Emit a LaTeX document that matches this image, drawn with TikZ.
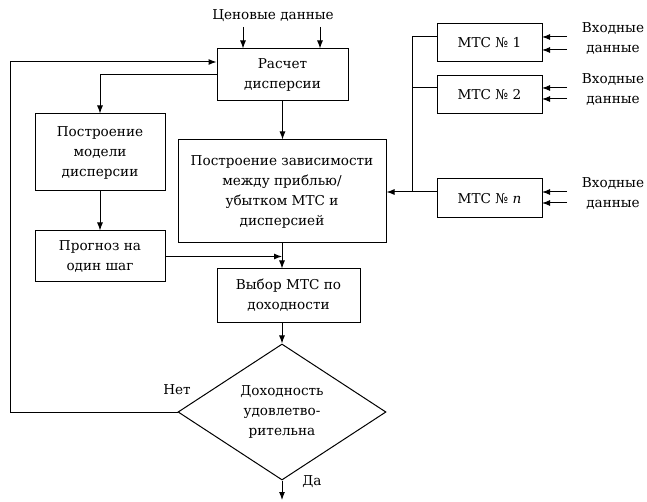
\documentclass[tikz,border=0pt]{standalone}
\usepackage{fontspec}
\setmainfont{DejaVu Serif}
\usetikzlibrary{positioning,shapes.geometric,arrows.meta}

\tikzset{
  box/.style={draw, line width=1pt, align=center, inner sep=0pt},
  lbl/.style={align=center, inner sep=0pt},
  link/.style={line width=1pt, -{Latex[length=8pt,width=6pt]}},
  bus/.style={line width=1pt}
}

\begin{document}
\begin{tikzpicture}[x=1pt, y=-1pt, font=\fontsize{13.6}{20}\selectfont]
\useasboundingbox (0,0) rectangle (647,502);
% main column
\node[lbl] (price) at (273,16) {Ценовые данные};
\node[box, minimum width=131pt, minimum height=52pt] (calc) at (282.5,75) {Расчет\\дисперсии};
\node[box, minimum width=130pt, minimum height=77pt] (model) at (100,152.5) {Построение\\модели\\дисперсии};
\node[box, minimum width=130pt, minimum height=51pt] (forecast) at (100,256.5) {Прогноз на\\один шаг};
\node[box, minimum width=208pt, minimum height=103pt] (dep) at (282,191.5) {Построение зависимости\\между приблью/\\убытком МТС и\\дисперсией};
\node[box, minimum width=143pt, minimum height=53pt] (choice) at (288.5,295.5) {Выбор МТС по\\доходности};
\node[box, diamond, minimum width=208pt, minimum height=129pt] (dec) at (282,412) {Доходность\\удовлетво-\\рительна};
\node[lbl] (no) at (177,390) {Нет};
\node[lbl] (yes) at (312,482) {Да};
% trading systems
\node[box, minimum width=105pt, minimum height=38pt] (mtc1) at (489.5,43) {МТС № 1};
\node[box, minimum width=105pt, minimum height=38pt] (mtc2) at (489.5,95) {МТС № 2};
\node[box, minimum width=105pt, minimum height=39pt] (mtcn) at (489.5,198.5) {МТС № \textit{n}};
\node[lbl] (in1) at (613,38) {Входные\\данные};
\node[lbl] (in2) at (613,89) {Входные\\данные};
\node[lbl] (inn) at (613,193) {Входные\\данные};

\coordinate (p1) at (243,27);
\coordinate (p2) at (320,27);
\coordinate (loop) at (10,62);
\coordinate (out) at (282,500);
\coordinate (b1) at (412,37);
\coordinate (b2) at (412,88);
\coordinate (bn) at (412,192);

\draw[link] (p1) -- (p1 |- calc.north);
\draw[link] (p2) -- (p2 |- calc.north);
\draw[link] (calc.west) -| (model.north);
\draw[link] (model) -- (forecast);
\draw[link] (calc.south) -- (calc.south |- dep.north);
\draw[link] (dep.south) -- (dep.south |- choice.north);
\draw[link] (forecast.east) -- (forecast.east -| dep.south);
\draw[link] (dec.north |- choice.south) -- (dec.north);
\draw[link] (dec.south) -- (out);
\draw[link] (dec.west) -| (loop) -- (loop -| calc.west);

\draw[bus] (b1) -- (bn);
\draw[bus] (b1) -- (b1 -| mtc1.west);
\draw[bus] (b2) -- (b2 -| mtc2.west);
\draw[bus] (bn) -- (bn -| mtcn.west);
\draw[link] (bn) -- (bn -| dep.east);

\foreach \y in {37,50,88,99,192,203}
  \draw[link] (567,\y) -- (542,\y);
\end{tikzpicture}
\end{document}
